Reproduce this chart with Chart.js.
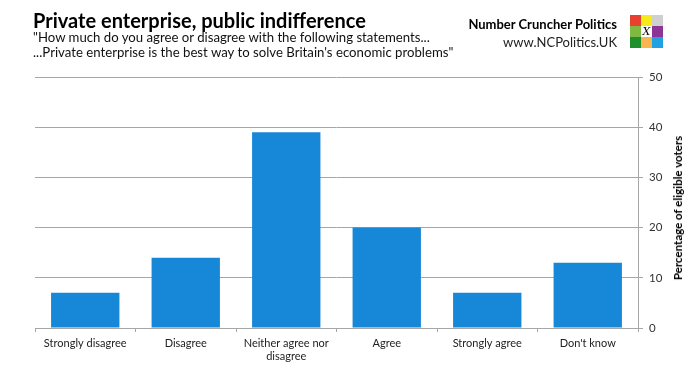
<!DOCTYPE html>
<html>
<head>
<meta charset="utf-8">
<script src="https://cdn.jsdelivr.net/npm/chart.js@4"></script>
<style>
  body { margin: 0; background: #fff; font-family: Lato, "Open Sans", sans-serif; }
  #wrap { position: relative; width: 692px; height: 371px; overflow: hidden; }
  #c { position: absolute; left: 0; top: 0; }
  .txt { position: absolute; white-space: nowrap; color: #000; }
  #title { left: 33px; top: 8px; font-size: 20px; font-weight: bold; }
  #sub { left: 33px; top: 30px; font-size: 13.2px; line-height: 15px; color: #111; }
  #brand { right: 75px; top: 16px; font-size: 13px; font-weight: bold; text-align: right; }
  #site { right: 75px; top: 34px; font-size: 13px; text-align: right; color: #222; }
  #ytitle { left: 678px; top: 208px; font-size: 11.5px; font-weight: bold; line-height: 14px;
            transform: translate(-50%, -50%) rotate(-90deg); }
  #logo { position: absolute; left: 630px; top: 15px; width: 33px; height: 33px; display: grid;
          grid-template-columns: repeat(3, 11px); grid-template-rows: repeat(3, 11px); }
  #logo div { font: italic 11px "DejaVu Serif", serif; text-align: center; line-height: 11px; }
</style>
</head>
<body>
<div id="wrap">
  <canvas id="c" width="692" height="371"></canvas>
  <div class="txt" id="title">Private enterprise, public indifference</div>
  <div class="txt" id="sub">"How much do you agree or disagree with the following statements...<br>...Private enterprise is the best way to solve Britain's economic problems"</div>
  <div class="txt" id="brand">Number Cruncher Politics</div>
  <div class="txt" id="site">www.NCPolitics.UK</div>
  <div class="txt" id="ytitle">Percentage of eligible voters</div>
  <div id="logo">
    <div style="background:#e8402e"></div>
    <div style="background:#f6ea1a"></div>
    <div style="background:#cfcfcf"></div>
    <div style="background:#80b942"></div>
    <div style="background:#fff">X</div>
    <div style="background:#8c3596"></div>
    <div style="background:#1f8f2c"></div>
    <div style="background:#f9b650"></div>
    <div style="background:#21a0e2"></div>
  </div>
</div>
<script>
const categories = ["Strongly disagree", "Disagree", ["Neither agree nor", "disagree"], "Agree", "Strongly agree", "Don't know"];
const shares = [7, 14, 39, 20, 7, 13];
const yTicks = [0, 10, 20, 30, 40, 50];

const gridGrey = "#a6a6a6";

new Chart(document.getElementById("c"), {
  type: 'bar',
  data: {
    labels: categories,
    datasets: [{
      data: shares,
      backgroundColor: "#1787d8",
      barPercentage: 0.68,
      categoryPercentage: 1
    }]
  },
  options: {
    responsive: false,
    animation: false,
    layout: { padding: { left: 35, top: 77, right: 0, bottom: 0 } },
    plugins: { legend: { display: false }, tooltip: { enabled: false } },
    scales: {
      x: {
        grid: { offset: true, drawOnChartArea: false, drawTicks: true, tickLength: 4, color: gridGrey },
        border: { display: true, color: gridGrey },
        ticks: { color: "#222", font: { family: "Lato", size: 11 }, maxRotation: 0, autoSkip: false, padding: 5, lineHeight: 1.25 },
        afterFit: function(scale) { scale.height = 43; }
      },
      y: {
        position: 'right',
        min: 0,
        max: yTicks[yTicks.length - 1],
        afterBuildTicks: function(scale) { scale.ticks = yTicks.map(v => ({ value: v })); },
        grid: { color: gridGrey, tickLength: 5 },
        border: { display: true, color: gridGrey },
        ticks: { color: "#333", font: { family: "Lato", size: 11.5 }, padding: 6 },
        // axis title is the rotated #ytitle div (reads bottom-to-top like the original)
        title: { display: false },
        afterFit: function(scale) { scale.width = 54; }
      }
    }
  }
});
</script>
</body>
</html>
